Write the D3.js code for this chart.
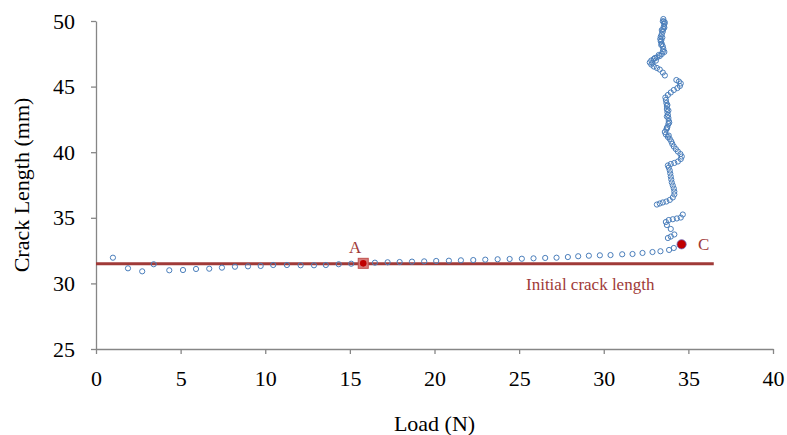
<!DOCTYPE html>
<html>
<head>
<meta charset="utf-8">
<script src="https://cdn.jsdelivr.net/npm/d3@7"></script>
<style>
  body { margin: 0; background: #fff; }
  svg { display: block; font-family: "Liberation Serif", "Times New Roman", serif; }
</style>
</head>
<body>
<div id="chart"></div>
<script>
'use strict';

// load (N) and crack length (mm) in test order
const loadN = [
  1.00, 1.89, 2.73, 3.41, 4.33, 5.14, 5.91, 6.69, 7.44, 8.21,
  8.98, 9.73, 10.47, 11.28, 12.09, 12.88, 13.58, 14.34, 15.08, 15.79,
  16.48, 17.23, 17.94, 18.67, 19.39, 20.10, 20.85, 21.56, 22.29, 23.00,
  23.73, 24.44, 25.16, 25.85, 26.54, 27.21, 27.88, 28.49, 29.12, 29.77,
  30.40, 31.09, 31.70, 32.29, 32.88, 33.35, 33.86, 34.14, 34.60,
  33.79, 33.96, 34.17, 33.96, 33.73, 33.67, 33.84, 34.08, 34.32, 34.55, 34.67,
  33.14, 33.31, 33.49, 33.70, 33.90, 34.08, 34.17, 34.17, 34.14, 34.08,
  34.02, 33.99, 33.96, 33.93, 33.90, 33.84, 33.79, 33.96, 34.17, 34.38,
  34.55, 34.61, 34.53, 34.38, 34.26, 34.14, 34.05, 33.99, 33.90, 33.79,
  33.67, 33.84, 33.61, 33.70, 33.73, 33.76, 33.82, 33.87, 33.84, 33.82,
  33.79, 33.73, 33.76, 33.82, 33.73, 33.73, 33.76, 33.70, 33.67, 33.64,
  33.79, 33.96, 34.14, 34.35, 34.50, 34.55, 34.44, 34.29,
  33.61, 33.49, 33.31, 33.14, 32.96, 32.81, 32.87, 32.72, 32.81, 33.08,
  32.96, 33.02, 33.14, 33.25, 33.31, 33.43, 33.49, 33.58, 33.52, 33.49,
  33.40, 33.43, 33.40, 33.37, 33.34, 33.46, 33.37, 33.43, 33.49, 33.43,
  33.52, 33.58, 33.55, 33.58, 33.61, 33.55, 33.49, 33.52
];
const crackMm = [
  31.96, 31.15, 30.92, 31.46, 31.00, 31.02, 31.10, 31.12, 31.20, 31.27,
  31.30, 31.33, 31.40, 31.40, 31.38, 31.38, 31.40, 31.46, 31.50, 31.53,
  31.58, 31.61, 31.63, 31.66, 31.68, 31.71, 31.73, 31.76, 31.78, 31.81,
  31.84, 31.86, 31.88, 31.91, 31.94, 31.96, 32.01, 32.07, 32.11, 32.14,
  32.16, 32.22, 32.24, 32.32, 32.39, 32.45, 32.55, 32.70, 32.98,
  33.46, 33.57, 33.73, 34.15, 34.45, 34.68, 34.83, 34.89, 34.95, 35.02, 35.25,
  36.01, 36.09, 36.17, 36.24, 36.36, 36.55, 36.78, 37.00, 37.23, 37.46,
  37.69, 37.92, 38.15, 38.38, 38.61, 38.83, 38.99, 39.10, 39.18, 39.29,
  39.48, 39.67, 39.86, 40.05, 40.24, 40.43, 40.63, 40.82, 41.01, 41.16,
  41.35, 41.27, 41.54, 41.73, 41.84, 41.92, 42.15, 42.26, 42.38, 42.61,
  42.84, 42.72, 43.06, 43.18, 43.29, 43.52, 43.60, 43.75, 43.98, 44.17,
  44.36, 44.55, 44.74, 44.89, 45.05, 45.24, 45.39, 45.50,
  45.85, 46.07, 46.30, 46.42, 46.53, 46.68, 46.80, 46.84, 46.99, 46.98,
  47.10, 47.18, 47.22, 47.41, 47.33, 47.48, 47.68, 47.64, 47.87, 48.06,
  48.17, 48.25, 48.52, 48.44, 48.63, 48.74, 48.82, 49.01, 49.20, 49.31,
  49.39, 49.50, 49.58, 49.77, 49.89, 49.96, 49.98, 50.15
];

const initialCrack = 31.5;
const initialCrackEnd = 36.5;
const pointA = { load: 15.79, crack: 31.53, label: 'A' };
const pointC = { load: 34.60, crack: 32.98, label: 'C' };

const xTicks = [0, 5, 10, 15, 20, 25, 30, 35, 40];
const yTicks = [25, 30, 35, 40, 45, 50];

const width = 787;
const height = 435;
const blue = '#4a7ebb';
const darkRed = '#a03a38';

const svg = d3.select('#chart')
  .append('svg')
    .attr('width', width)
    .attr('height', height);

const x = d3.scaleLinear().domain([0, 40]).range([96, 773]);
const y = d3.scaleLinear().domain([25, 50]).range([349, 21]);

function styleAxis(g) {
  g.selectAll('path, line')
    .attr('stroke', '#868686')
    .attr('stroke-width', 1.3);
  g.selectAll('text')
    .attr('fill', '#000')
    .style('font-size', '22px')
    .style('font-family', '"Liberation Serif", "Times New Roman", serif');
}

svg.append('g')
  .attr('transform', `translate(0,${y(25)})`)
  .call(d3.axisBottom(x).tickValues(xTicks).tickSize(5).tickSizeOuter(0).tickPadding(16))
  .call(styleAxis);

svg.append('g')
  .attr('transform', `translate(${x(0)},0)`)
  .call(d3.axisLeft(y).tickValues(yTicks).tickSize(5).tickSizeOuter(0).tickPadding(16))
  .call(styleAxis);

svg.append('text')
  .attr('transform', `translate(29,${(y(25) + y(50)) / 2}) rotate(-90)`)
  .attr('text-anchor', 'middle')
  .style('font-size', '22px')
  .text('Crack Length (mm)');

svg.append('text')
  .attr('x', (x(0) + x(40)) / 2)
  .attr('y', 431)
  .attr('text-anchor', 'middle')
  .style('font-size', '22px')
  .text('Load (N)');

// initial crack length reference line
svg.append('line')
  .attr('x1', x(0))
  .attr('x2', x(initialCrackEnd))
  .attr('y1', y(initialCrack))
  .attr('y2', y(initialCrack))
  .attr('stroke', darkRed)
  .attr('stroke-width', 3);

svg.append('text')
  .attr('x', x(29.2))
  .attr('y', 290)
  .attr('text-anchor', 'middle')
  .attr('fill', darkRed)
  .style('font-size', '17px')
  .text('Initial crack length');

const data = loadN.map((d, i) => ({ load: d, crack: crackMm[i] }));

svg.append('g')
  .selectAll('circle')
  .data(data)
  .enter()
  .append('circle')
    .attr('cx', (d) => x(d.load))
    .attr('cy', (d) => y(d.crack))
    .attr('r', 2.6)
    .attr('fill', 'none')
    .attr('stroke', blue)
    .attr('stroke-width', 1);

// point A: square with a dot
svg.append('rect')
  .attr('x', x(pointA.load) - 5)
  .attr('y', y(pointA.crack) - 5)
  .attr('width', 10)
  .attr('height', 10)
  .attr('fill', '#d77b7a')
  .attr('stroke', '#c0504d')
  .attr('stroke-width', 1);

svg.append('circle')
  .attr('cx', x(pointA.load))
  .attr('cy', y(pointA.crack))
  .attr('r', 3.3)
  .attr('fill', '#c00000');

svg.append('circle')
  .attr('cx', x(pointC.load))
  .attr('cy', y(pointC.crack))
  .attr('r', 4.6)
  .attr('fill', '#c00000')
  .attr('stroke', '#6a5fb0')
  .attr('stroke-width', 0.8);

svg.append('text')
  .attr('x', x(pointA.load) - 8)
  .attr('y', 253)
  .attr('text-anchor', 'middle')
  .attr('fill', darkRed)
  .style('font-size', '17px')
  .text(pointA.label);

svg.append('text')
  .attr('x', x(pointC.load) + 22)
  .attr('y', 250)
  .attr('text-anchor', 'middle')
  .attr('fill', darkRed)
  .style('font-size', '17px')
  .text(pointC.label);
</script>
</body>
</html>
